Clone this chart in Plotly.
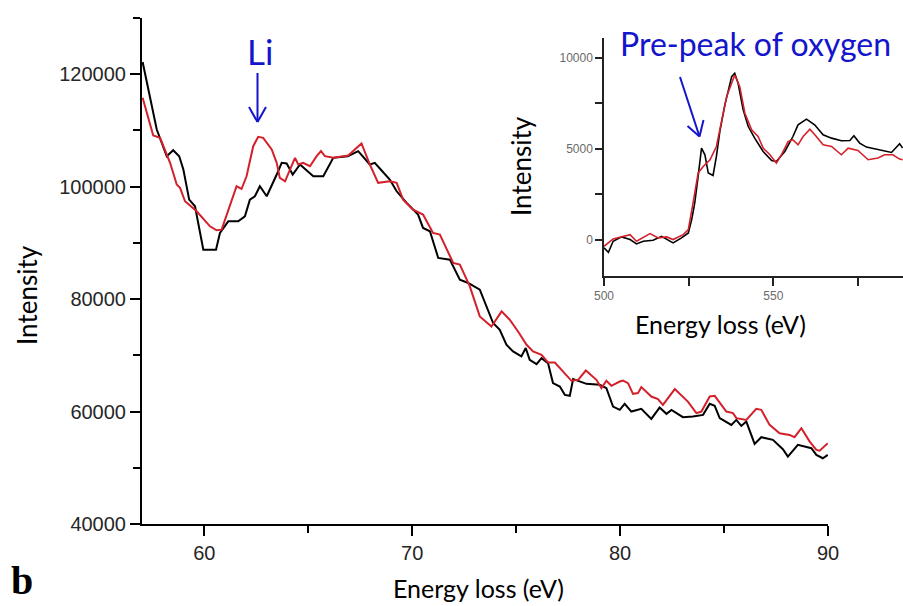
import plotly.graph_objects as go

# ---------------- main spectrum (Li M-edge region) ----------------
e_black = [57.03,57.71,58.19,58.50,58.79,58.99,59.27,59.55,59.95,60.56,60.75,61.15,61.63,61.95,62.19,62.43,62.67,63.00,63.48,63.72,
           63.96,64.25,64.60,65.24,65.72,66.20,66.90,67.40,67.96,68.20,68.44,68.92,69.25,69.73,70.28,70.52,70.85,71.25,71.81,72.29,
           72.69,73.25,73.89,74.21,74.53,74.85,75.25,75.46,75.65,75.98,76.22,76.53,76.77,77.10,77.34,77.58,77.74,78.06,78.38,79.02,
           79.34,79.66,79.98,80.22,80.54,81.02,81.50,81.90,82.23,82.47,83.02,83.50,83.99,84.31,84.55,84.79,85.35,85.59,85.83,86.07,
           86.47,86.79,87.35,87.83,88.07,88.55,89.20,89.44,89.75,89.99]
i_black = [122160,110170,105420,106490,105420,103050,97700,96510,88800,88800,91770,93840,93840,94730,97700,98290,100070,98290,102160,104240,
           104120,102160,103940,101850,101850,105130,105420,106310,103940,104240,103230,101270,99180,97120,95030,92660,92060,87320,87020,83460,
           82870,81680,75740,74550,71880,70690,69800,71290,69210,68440,69510,68620,65060,64450,62970,62800,65770,65340,64930,64760,
           64170,60890,60300,61370,60000,60480,58700,60710,59590,60300,59000,59110,59410,61370,61020,58830,57630,58520,57450,58220,
           54250,55440,54960,53300,51990,54070,53480,52290,51700,52290]

e_red = [57.03,57.54,57.87,58.35,58.67,58.83,59.07,59.63,60.27,60.59,60.83,61.23,61.55,61.79,62.03,62.35,62.59,62.83,63.24,63.48,
         63.63,63.88,64.12,64.36,64.52,64.75,65.08,65.40,65.61,65.80,66.20,66.92,67.56,67.96,68.36,68.92,69.25,69.56,70.04,70.52,
         71.00,71.33,71.97,72.29,72.77,73.25,73.81,74.30,74.69,75.09,75.50,75.81,76.22,76.53,76.86,77.26,77.66,77.98,78.35,78.86,
         79.10,79.34,79.58,79.98,80.14,80.38,80.62,80.86,81.02,81.50,81.82,82.06,82.63,83.26,83.67,83.91,84.31,84.55,85.11,85.43,
         85.59,86.07,86.55,86.79,87.19,87.67,88.15,88.39,88.72,89.12,89.44,89.60,89.99]
i_red = [115820,109100,108690,104240,100380,99790,97400,95620,92950,92240,92360,96510,100070,99610,101850,107200,108870,108690,106610,104240,
         101570,100960,103050,105130,103940,104240,103640,105420,106310,105420,105130,105540,107680,103940,100680,100960,100680,97700,95920,95030,
         91770,91470,86430,86130,82260,76920,75140,77810,76330,74250,71880,70690,70100,68730,68730,67120,65470,65650,67300,65650,
         64170,65470,64580,65340,65520,65060,63150,63280,64350,62670,62210,61190,63990,61780,59720,60000,62670,62800,60000,59720,
         58830,58520,60480,60300,57630,56150,55850,55440,57040,54660,53180,53050,54370]

# ---------------- inset (O K-edge) ----------------
eo_black = [500.0,501.3,502.7,505.2,507.7,509.6,511.6,514.5,517.0,518.5,520.4,522.9,524.9,525.9,526.8,527.8,528.8,529.8,530.8,532.2,
            533.2,534.2,535.7,537.7,538.6,539.6,541.1,542.6,544.5,547.0,549.5,550.9,553.4,555.8,557.3,559.8,562.2,564.7,567.2,570.1,
            572.6,573.8,575.5,577.5,580.4,582.9,584.9,587.3,588.2]
io_black = [-455,-696,-93,148,0,-236,-93,-38,181,38,-181,93,367,1096,2011,3469,5025,4658,3655,3524,
            4565,5935,7398,8949,9135,8587,7124,6209,5573,4839,4346,4291,4839,5661,6302,6614,6302,5754,5573,5425,
            5442,5699,5299,5080,4970,4894,4784,5261,5025]
eo_red = [500.0,502.7,507.7,509.6,513.6,516.0,518.5,520.4,523.4,524.9,526.3,527.8,529.3,531.3,533.2,534.2,536.2,538.6,540.1,541.6,
          543.6,545.5,547.0,549.0,550.9,552.4,554.4,555.8,557.3,558.8,560.8,562.7,564.7,567.2,570.1,572.1,575.0,578.0,580.9,582.9,
          585.3,587.3,588.2]
io_red = [-367,38,274,-93,329,93,148,0,274,548,2011,3655,4017,4384,5113,6028,7853,9042,8401,6943,
          6028,5661,5025,4658,4203,4658,5387,5480,5206,5661,6066,5661,5206,5113,4658,5025,4894,4384,4477,4658,
          4658,4422,4384]

main_xticks = [60, 70, 80, 90]
main_yticks = [40000, 60000, 80000, 100000, 120000]
inset_xticks = [500, 550]
inset_yticks = [0, 5000, 10000]

BLACK = "#000000"
RED = "#d3202a"
BLUE = "#1414cc"
W, H = 903, 606


def px(x):
    return x / W


def py(y):
    return 1 - y / H


fig = go.Figure()
fig.add_trace(go.Scatter(x=e_black, y=i_black, mode="lines", line=dict(color=BLACK, width=2),
                         xaxis="x", yaxis="y", showlegend=False))
fig.add_trace(go.Scatter(x=e_red, y=i_red, mode="lines", line=dict(color=RED, width=2),
                         xaxis="x", yaxis="y", showlegend=False))
fig.add_trace(go.Scatter(x=eo_black, y=io_black, mode="lines", line=dict(color=BLACK, width=1.6),
                         xaxis="x2", yaxis="y2", showlegend=False))
fig.add_trace(go.Scatter(x=eo_red, y=io_red, mode="lines", line=dict(color=RED, width=1.6),
                         xaxis="x2", yaxis="y2", showlegend=False))

tick_font_main = dict(family="Liberation Sans, Arial, sans-serif", size=20, color="#262626")
tick_font_inset = dict(family="Liberation Sans, Arial, sans-serif", size=12, color="#6a6a6a")

fig.update_layout(
    width=W, height=H,
    margin=dict(l=0, r=0, t=0, b=0, pad=0, autoexpand=False),
    paper_bgcolor="white", plot_bgcolor="rgba(0,0,0,0)",
    showlegend=False,
    xaxis=dict(domain=[px(142), px(828)], range=[57, 90], anchor="y", automargin=False,
               tickmode="array", tickvals=main_xticks, ticktext=[str(v) for v in main_xticks],
               showline=True, linecolor="black", linewidth=2, ticks="outside", ticklen=10, tickwidth=2,
               tickcolor="black", showgrid=False, zeroline=False, tickfont=tick_font_main,
               minor=dict(tickvals=[65, 75, 85], ticks="outside", ticklen=7, tickwidth=2, tickcolor="black")),
    yaxis=dict(domain=[py(524), py(18)], range=[40000, 130000], anchor="x", automargin=False,
               tickmode="array", tickvals=main_yticks, ticktext=[str(v) for v in main_yticks],
               showline=True, linecolor="black", linewidth=2, ticks="outside", ticklen=10, tickwidth=2,
               tickcolor="black", showgrid=False, zeroline=False, tickfont=tick_font_main,
               minor=dict(tickvals=[50000, 70000, 90000, 110000, 130000], ticks="outside", ticklen=7,
                          tickwidth=2, tickcolor="black")),
    xaxis2=dict(domain=[px(604), 1.0], range=[500, 588.3], anchor="y2", automargin=False,
                tickmode="array", tickvals=inset_xticks, ticktext=[str(v) for v in inset_xticks],
                showline=True, linecolor="#222", linewidth=1.5, ticks="outside", ticklen=8, tickwidth=1.5,
                tickcolor="#222", showgrid=False, zeroline=False, tickfont=tick_font_inset,
                minor=dict(tickvals=[525, 575], ticks="outside", ticklen=8, tickwidth=1.5, tickcolor="#222")),
    yaxis2=dict(domain=[py(276), py(37.5)], range=[-2000, 11100], anchor="x2", automargin=False,
                tickmode="array", tickvals=inset_yticks, ticktext=[str(v) for v in inset_yticks],
                showline=True, linecolor="#222", linewidth=1.5, ticks="outside", ticklen=7, tickwidth=1.5,
                tickcolor="#222", showgrid=False, zeroline=False, tickfont=tick_font_inset,
                minor=dict(tickvals=[2500, 7500], ticks="outside", ticklen=7, tickwidth=1.5, tickcolor="#222")),
)

title_font = "Lato, Open Sans, sans-serif"


def note(text, x, y, size, color="black", angle=0, family=title_font):
    fig.add_annotation(text=text, x=px(x), y=py(y), xref="paper", yref="paper",
                       xanchor="center", yanchor="middle", showarrow=False, textangle=angle,
                       font=dict(family=family, size=size, color=color))


note("Intensity", 27, 295, 26, angle=-90)
note("Energy loss (eV)", 478, 588, 25)
note("Intensity", 521, 166, 26, angle=-90)
note("Energy loss (eV)", 720, 324, 25)
note("Li", 260, 51, 35, color=BLUE)
note("Pre-peak of oxygen", 755, 43, 32, color=BLUE)
note("<b>b</b>", 22, 580, 40, family="Liberation Serif, Times New Roman, serif")


def seg(x0, y0, x1, y1, color=BLUE, width=2):
    fig.add_shape(type="line", xref="paper", yref="paper",
                  x0=px(x0), y0=py(y0), x1=px(x1), y1=py(y1),
                  line=dict(color=color, width=width))


# Li arrow
seg(257.5, 73, 257.5, 122)
seg(249, 107, 257.5, 122)
seg(266, 107, 257.5, 122)
# Pre-peak arrow
seg(680, 77, 699.5, 136.5)
seg(687.5, 126, 699.5, 136.5)
seg(703.5, 120, 699.5, 136.5)

fig.write_html("out.html")
